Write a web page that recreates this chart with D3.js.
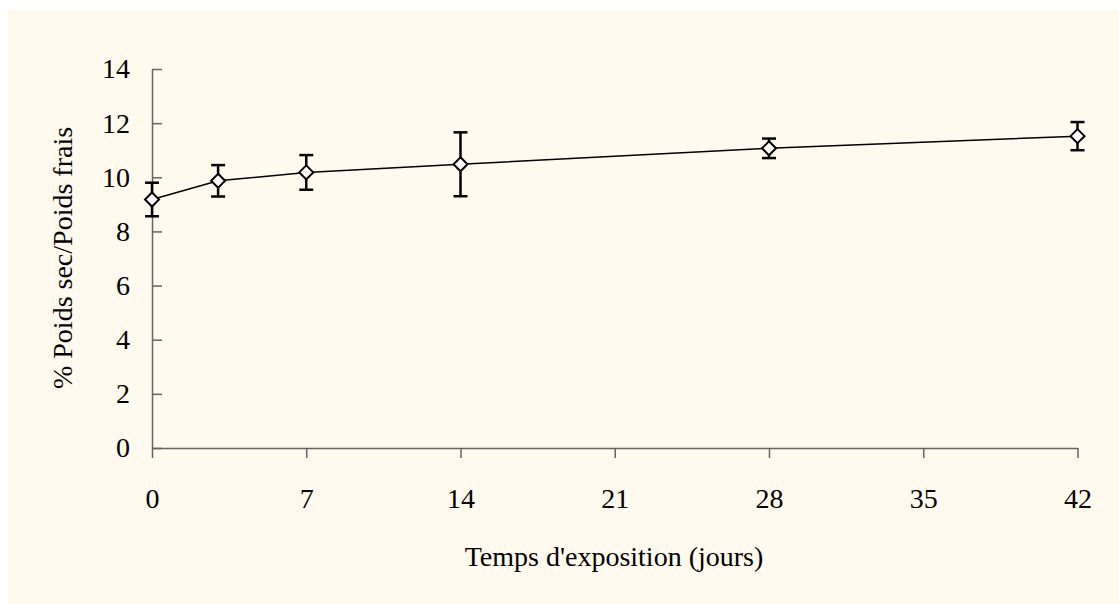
<!DOCTYPE html>
<html>
<head>
    <meta charset="utf-8" />
    <title>Poids sec / Poids frais</title>
    <script src="https://cdn.jsdelivr.net/npm/d3@7/dist/d3.min.js"></script>
    <style>
        html, body { margin: 0; padding: 0; background: #ffffff; }
        svg text { font-family: "Liberation Serif", "Times New Roman", serif; font-size: 28px; fill: #000; }
    </style>
</head>
<body>
<script>
    // données
    var jours = [0, 3, 7, 14, 28, 42];
    var moyennes = [9.18, 9.87, 10.18, 10.48, 11.07, 11.52];
    var ecarts = [0.62, 0.58, 0.64, 1.18, 0.36, 0.52];
    var xTicks = [0, 7, 14, 21, 28, 35, 42];
    var yTicks = [0, 2, 4, 6, 8, 10, 12, 14];

    var width = 1119, height = 604;
    var svg = d3.select('body').append('svg').attr('width', width).attr('height', height);

    svg.append('rect').attr('x', 8).attr('y', 10)
        .attr('width', width - 8).attr('height', height - 10)
        .attr('fill', '#fff9ee');

    var x = d3.scaleLinear().domain([0, 42]).range([152, 1077.5]);
    var y = d3.scaleLinear().domain([0, 14]).range([448, 69]);

    // axe Y, graduations vers l'intérieur
    var gy = svg.append('g').attr('transform', 'translate(152,0)')
        .call(d3.axisLeft(y).tickValues(yTicks).tickSizeInner(-10).tickSizeOuter(0).tickPadding(22));
    // axe X
    var gx = svg.append('g').attr('transform', 'translate(0,448)')
        .call(d3.axisBottom(x).tickValues(xTicks).tickSizeInner(10).tickSizeOuter(0).tickPadding(30));

    [gx, gy].forEach(function(g){
        g.attr('font-family', null).attr('font-size', null);
        g.select('.domain').attr('stroke', '#666').attr('stroke-width', 1.5);
        g.selectAll('.tick line').attr('stroke', '#666').attr('stroke-width', 1.5);
        g.selectAll('.tick text').attr('fill', '#000');
    });

    var data = jours.map(function(d, i){ return {j: d, m: moyennes[i], e: ecarts[i]}; });

    // courbe
    svg.append('path').datum(data)
        .attr('fill', 'none').attr('stroke', '#000').attr('stroke-width', 1.5)
        .attr('d', d3.line().x(function(d){ return x(d.j); }).y(function(d){ return y(d.m); }));

    // barres d'erreur
    var eb = svg.append('g').attr('stroke', '#000').attr('stroke-width', 2.5);
    data.forEach(function(d){
        var cx = x(d.j), t = y(d.m + d.e), b = y(d.m - d.e);
        eb.append('line').attr('x1', cx).attr('x2', cx).attr('y1', t).attr('y2', b);
        eb.append('line').attr('x1', cx - 7).attr('x2', cx + 7).attr('y1', t).attr('y2', t);
        eb.append('line').attr('x1', cx - 7).attr('x2', cx + 7).attr('y1', b).attr('y2', b);
    });

    // losanges
    svg.selectAll('.pt').data(data).enter().append('path')
        .attr('class', 'pt')
        .attr('d', 'M0,-7L7,0L0,7L-7,0Z')
        .attr('transform', function(d){ return 'translate(' + x(d.j) + ',' + y(d.m) + ')'; })
        .attr('fill', '#fff').attr('stroke', '#000').attr('stroke-width', 2);

    // titres des axes
    svg.append('text').attr('x', 614).attr('y', 566)
        .attr('text-anchor', 'middle')
        .text("Temps d'exposition (jours)");
    svg.append('text').attr('transform', 'translate(72,258) rotate(-90)')
        .attr('text-anchor', 'middle')
        .text('% Poids sec/Poids frais');
</script>
</body>
</html>
